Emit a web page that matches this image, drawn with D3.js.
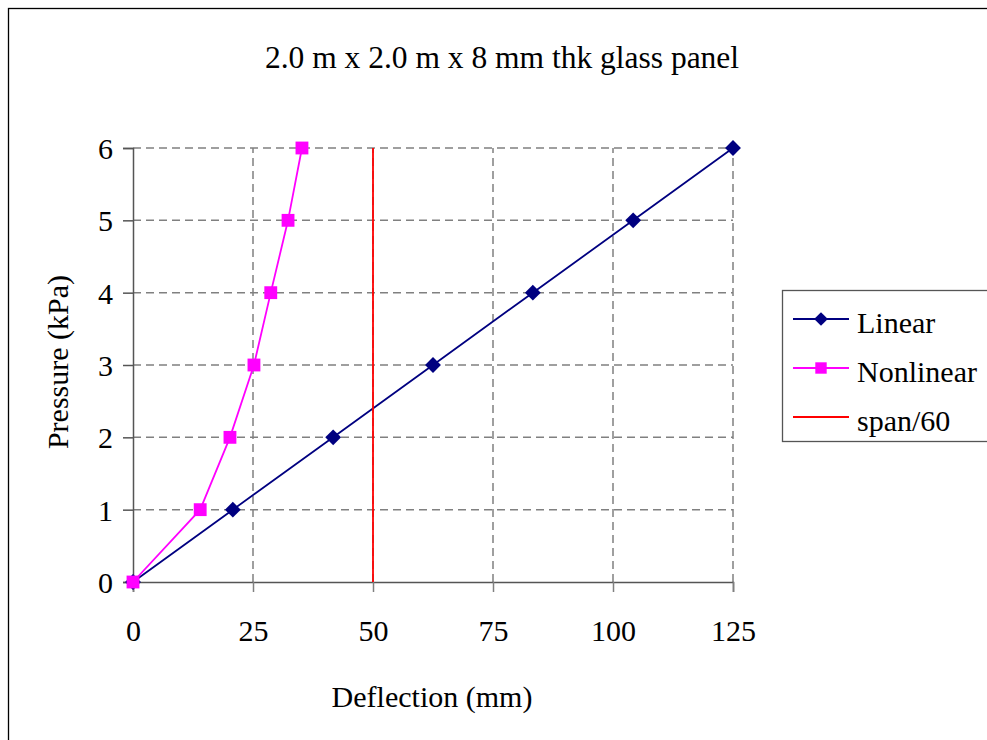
<!DOCTYPE html>
<html>
<head>
<meta http-equiv="Content-Type" content="text/html; charset=UTF-8">
<style>
body { margin: 0; background: #fff; }
text { font-family: "Liberation Serif", "Times New Roman", serif; fill: #000; }
</style>
</head>
<body>
<div class="container"></div>
<script src="https://cdn.jsdelivr.net/npm/d3@7/dist/d3.min.js"></script>
<script>

var width = 987;
var height = 740;
var fontSize = "30px";

// data
var pressure = [0, 1, 2, 3, 4, 5, 6];
var linearDefl = [0, 20.8, 41.7, 62.5, 83.3, 104.2, 125];
var nonlinearDefl = [0, 14.0, 20.2, 25.2, 28.7, 32.3, 35.2];
var spanLimit = [50, 50];
var spanPressure = [0, 6];
var xTicks = [0, 25, 50, 75, 100, 125];
var yTicks = [0, 1, 2, 3, 4, 5, 6];

var series = [
    { name: "Linear", color: "#000080", marker: "diamond", x: linearDefl, y: pressure },
    { name: "Nonlinear", color: "#ff00ff", marker: "square", x: nonlinearDefl, y: pressure },
    { name: "span/60", color: "#ff0000", marker: null, x: spanLimit, y: spanPressure }
];

var x = d3.scaleLinear().domain([0, 125]).range([133, 733]);
var y = d3.scaleLinear().domain([0, 6]).range([582, 148]);

var svg = d3.select(".container")
            .append("svg")
                .attr("width", width)
                .attr("height", height);

// outer chart frame (runs past the right and bottom edges)
svg.append("rect")
    .attr("x", 8.5).attr("y", 8.5)
    .attr("width", 1200).attr("height", 1000)
    .style("fill", "none")
    .style("stroke", "#000")
    .style("stroke-width", 1.3);

// title
svg.append("text")
    .attr("x", 502).attr("y", 68)
    .attr("text-anchor", "middle")
    .style("font-size", "31.5px")
    .text("2.0 m x 2.0 m x 8 mm thk glass panel");

// gridlines
var grid = svg.append("g");
grid.selectAll(".hgrid")
    .data(yTicks.filter(function(d) { return d > 0; }))
    .enter().append("line")
        .attr("x1", x(0)).attr("x2", x(125))
        .attr("y1", function(d) { return y(d); })
        .attr("y2", function(d) { return y(d); })
        .style("stroke", "#808080")
        .style("stroke-width", 1.5)
        .style("stroke-dasharray", "8,5");
grid.selectAll(".vgrid")
    .data(xTicks.filter(function(d) { return d > 0; }))
    .enter().append("line")
        .attr("x1", function(d) { return x(d); })
        .attr("x2", function(d) { return x(d); })
        .attr("y1", y(0)).attr("y2", y(6))
        .style("stroke", "#808080")
        .style("stroke-width", 1.5)
        .style("stroke-dasharray", "8,5");

// axes
var xAxis = svg.append("g")
    .attr("transform", "translate(0," + y(0) + ")")
    .call(d3.axisBottom(x).tickValues(xTicks).tickFormat(d3.format("d")).tickSize(10).tickPadding(28));
var yAxis = svg.append("g")
    .attr("transform", "translate(" + x(0) + ",0)")
    .call(d3.axisLeft(y).tickValues(yTicks).tickFormat(d3.format("d")).tickSize(10).tickPadding(10));

[xAxis, yAxis].forEach(function(ax) {
    ax.select(".domain").style("stroke", "#555").style("stroke-width", 1.5);
    ax.selectAll(".tick line").style("stroke", "#555").style("stroke-width", 1.5);
    ax.selectAll("text")
        .style("font-family", "'Liberation Serif', 'Times New Roman', serif")
        .style("font-size", fontSize)
        .style("fill", "#000");
});
xAxis.selectAll(".tick line").style("stroke", "#808080");
yAxis.selectAll("text").attr("dy", "0.35em");

// axis titles
svg.append("text")
    .attr("x", 432).attr("y", 707)
    .attr("text-anchor", "middle")
    .style("font-size", fontSize)
    .text("Deflection (mm)");
svg.append("text")
    .attr("transform", "translate(68,362) rotate(-90)")
    .attr("text-anchor", "middle")
    .style("font-size", fontSize)
    .text("Pressure (kPa)");

// series lines and markers
var line = d3.line()
    .x(function(d) { return x(d[0]); })
    .y(function(d) { return y(d[1]); });

var diamond = d3.symbol().type(d3.symbolDiamond2).size(160);
var square = d3.symbol().type(d3.symbolSquare).size(165);

series.forEach(function(s) {
    var pts = s.x.map(function(v, i) { return [v, s.y[i]]; });
    svg.append("path")
        .datum(pts)
        .attr("d", line)
        .style("fill", "none")
        .style("stroke", s.color)
        .style("stroke-width", 1.8);
    if (s.marker) {
        svg.selectAll(".m-" + s.marker)
            .data(pts)
            .enter().append("path")
                .attr("transform", function(d) { return "translate(" + x(d[0]) + "," + y(d[1]) + ")"; })
                .attr("d", s.marker === "diamond" ? diamond : square)
                .style("fill", s.color);
    }
});

// legend
var legend = svg.append("g").attr("transform", "translate(782,290)");
legend.append("rect")
    .attr("x", 0.5).attr("y", 0.5)
    .attr("width", 260).attr("height", 151)
    .style("fill", "#fff")
    .style("stroke", "#555")
    .style("stroke-width", 1.3);

var rows = legend.selectAll(".row")
    .data(series)
    .enter().append("g")
        .attr("transform", function(d, i) { return "translate(0," + (29 + i * 49) + ")"; });
rows.append("line")
    .attr("x1", 11).attr("x2", 67)
    .style("stroke", function(d) { return d.color; })
    .style("stroke-width", 1.8);
rows.filter(function(d) { return d.marker; })
    .append("path")
        .attr("transform", "translate(39,0)")
        .attr("d", function(d) { return d.marker === "diamond" ? d3.symbol().type(d3.symbolDiamond2).size(120)() : d3.symbol().type(d3.symbolSquare).size(130)(); })
        .style("fill", function(d) { return d.color; });
rows.append("text")
    .attr("x", 75).attr("y", 3)
    .attr("dy", "0.35em")
    .style("font-size", fontSize)
    .text(function(d) { return d.name; });

</script>
</body>
</html>
